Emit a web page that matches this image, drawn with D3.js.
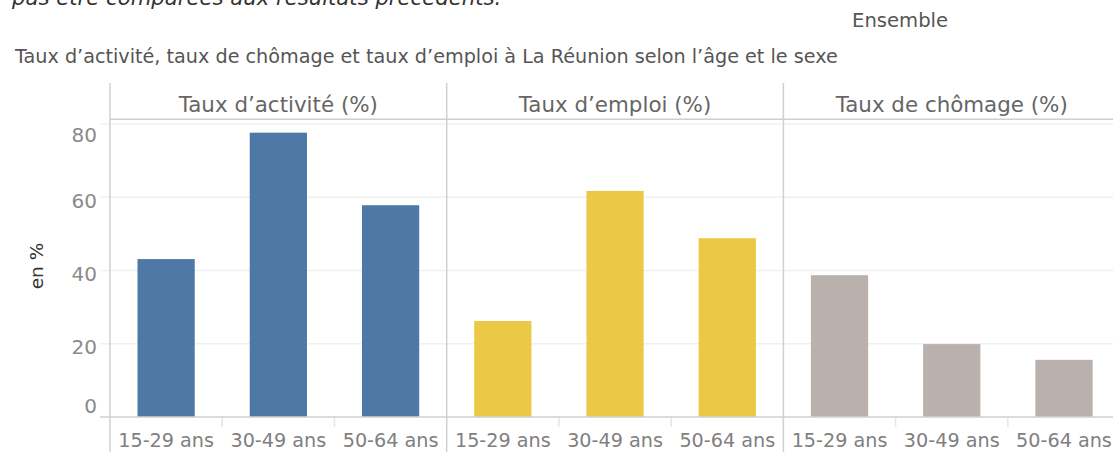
<!DOCTYPE html>
<html>
<head>
<meta charset="utf-8">
<script src="https://cdn.jsdelivr.net/npm/d3@7"></script>
<style>
  html, body { margin: 0; padding: 0; background: #fff; }
  svg { display: block; font-family: "DejaVu Sans", sans-serif; }
</style>
</head>
<body>
<svg id="chart" width="1113" height="452"></svg>
<script>
// Taux d'activité, d'emploi et de chômage à La Réunion par tranche d'âge (ensemble)
const ageGroups = ["15-29 ans", "30-49 ans", "50-64 ans"];
const measures = ["Taux d’activité (%)", "Taux d’emploi (%)", "Taux de chômage (%)"];
const tauxActivite = [43.1, 77.6, 57.8];
const tauxEmploi = [26.2, 61.7, 48.8];
const tauxChomage = [38.7, 19.9, 15.6];
const yTicks = [0, 20, 40, 60, 80];
const measureColors = ["#4e79a7", "#ebc947", "#bab0ac"];

const seriesByMeasure = [tauxActivite, tauxEmploi, tauxChomage];

const svg = d3.select("#chart");
const W = 1113;

const plotLeft = 110, panelWidth = 336.7;
const plotTop = 119.3, plotBottom = 417, headerTop = 83;

// Outer scale: one panel per measure
const xPanel = d3.scaleBand()
  .domain(measures)
  .range([plotLeft, plotLeft + panelWidth * measures.length]);

// Inner scale: age groups inside a panel
const xAge = d3.scaleBand()
  .domain(ageGroups)
  .range([0, panelWidth])
  .paddingInner(0.49)
  .paddingOuter(0.245);

const y = d3.scaleLinear().domain([0, 81.25]).range([plotBottom, plotTop]);

// Texts above the chart
svg.append("text")
  .attr("x", 12).attr("y", 5)
  .attr("font-size", 21.2).attr("font-style", "italic").attr("fill", "#333")
  .text("pas être comparées aux résultats précédents.");

svg.append("text")
  .attr("x", 852).attr("y", 27)
  .attr("font-size", 19.6).attr("fill", "#555")
  .text("Ensemble");

svg.append("text")
  .attr("x", 15).attr("y", 63)
  .attr("font-size", 19.2).attr("fill", "#555")
  .text("Taux d’activité, taux de chômage et taux d’emploi à La Réunion selon l’âge et le sexe");

// Gridlines
svg.append("g")
  .selectAll("line")
  .data(yTicks.filter(d => d > 0))
  .join("line")
  .attr("x1", 100).attr("x2", W)
  .attr("y1", d => y(d)).attr("y2", d => y(d))
  .attr("stroke", "#f0f0f0").attr("stroke-width", 1.5);

// Y axis labels (kept inside the plot height at the extremes)
const yAxis = d3.axisLeft(y).tickValues(yTicks).tickSize(0).tickPadding(13);
const yAxisG = svg.append("g")
  .attr("transform", `translate(${plotLeft},0)`)
  .call(yAxis);
yAxisG.select(".domain").remove();
yAxisG.selectAll(".tick text")
  .attr("font-family", "'DejaVu Sans', sans-serif")
  .attr("font-size", 20)
  .attr("fill", "#8a8a8a")
  .attr("dy", null)
  .attr("dominant-baseline", "central")
  .attr("y", d => {
    const c = Math.min(Math.max(y(d) + 3, plotTop + 14.7), plotBottom - 11.5);
    return c - y(d);
  });

svg.append("text")
  .attr("transform", "translate(36,266) rotate(-90)")
  .attr("text-anchor", "middle")
  .attr("dominant-baseline", "central")
  .attr("font-size", 18.5).attr("fill", "#333")
  .text("en %");

// Panels
measures.forEach((m, i) => {
  const g = svg.append("g").attr("transform", `translate(${xPanel(m)},0)`);
  const values = seriesByMeasure[i];

  // header
  g.append("text")
    .attr("x", panelWidth / 2).attr("y", 111.5)
    .attr("text-anchor", "middle")
    .attr("font-size", 21.4).attr("fill", "#666")
    .text(m);

  // bars
  g.selectAll("rect")
    .data(ageGroups.map((a, j) => ({ age: a, value: values[j] })))
    .join("rect")
    .attr("x", d => xAge(d.age))
    .attr("width", xAge.bandwidth())
    .attr("y", d => y(d.value))
    .attr("height", d => y(0) - y(d.value))
    .attr("fill", measureColors[i]);

  // x axis labels
  const xAxis = d3.axisBottom(xAge).tickSize(0).tickPadding(0);
  const xg = g.append("g").attr("transform", `translate(0,${plotBottom})`).call(xAxis);
  xg.select(".domain").remove();
  xg.selectAll(".tick text")
    .attr("font-family", "'DejaVu Sans', sans-serif")
    .attr("font-size", 19.2)
    .attr("fill", "#808080")
    .attr("dy", null)
    .attr("y", 30);

  // separators between age groups
  g.selectAll("line.sep")
    .data(ageGroups.slice(1))
    .join("line")
    .attr("class", "sep")
    .attr("x1", d => xAge(d) - xAge.step() * xAge.paddingInner() / 2)
    .attr("x2", d => xAge(d) - xAge.step() * xAge.paddingInner() / 2)
    .attr("y1", plotBottom).attr("y2", plotBottom + 10)
    .attr("stroke", "#e6e6e6").attr("stroke-width", 1.5);
});

// Frame lines: header rule, baseline and panel dividers
svg.append("line")
  .attr("x1", plotLeft).attr("x2", W)
  .attr("y1", plotTop).attr("y2", plotTop)
  .attr("stroke", "#cfcfcf").attr("stroke-width", 1.5);

svg.append("line")
  .attr("x1", 100).attr("x2", W)
  .attr("y1", y(0)).attr("y2", y(0))
  .attr("stroke", "#d0d0d0").attr("stroke-width", 1.5);

svg.append("g")
  .selectAll("line")
  .data(measures)
  .join("line")
  .attr("x1", d => xPanel(d)).attr("x2", d => xPanel(d))
  .attr("y1", headerTop).attr("y2", 452)
  .attr("stroke", "#d0d0d0").attr("stroke-width", 1.5);
</script>
</body>
</html>
